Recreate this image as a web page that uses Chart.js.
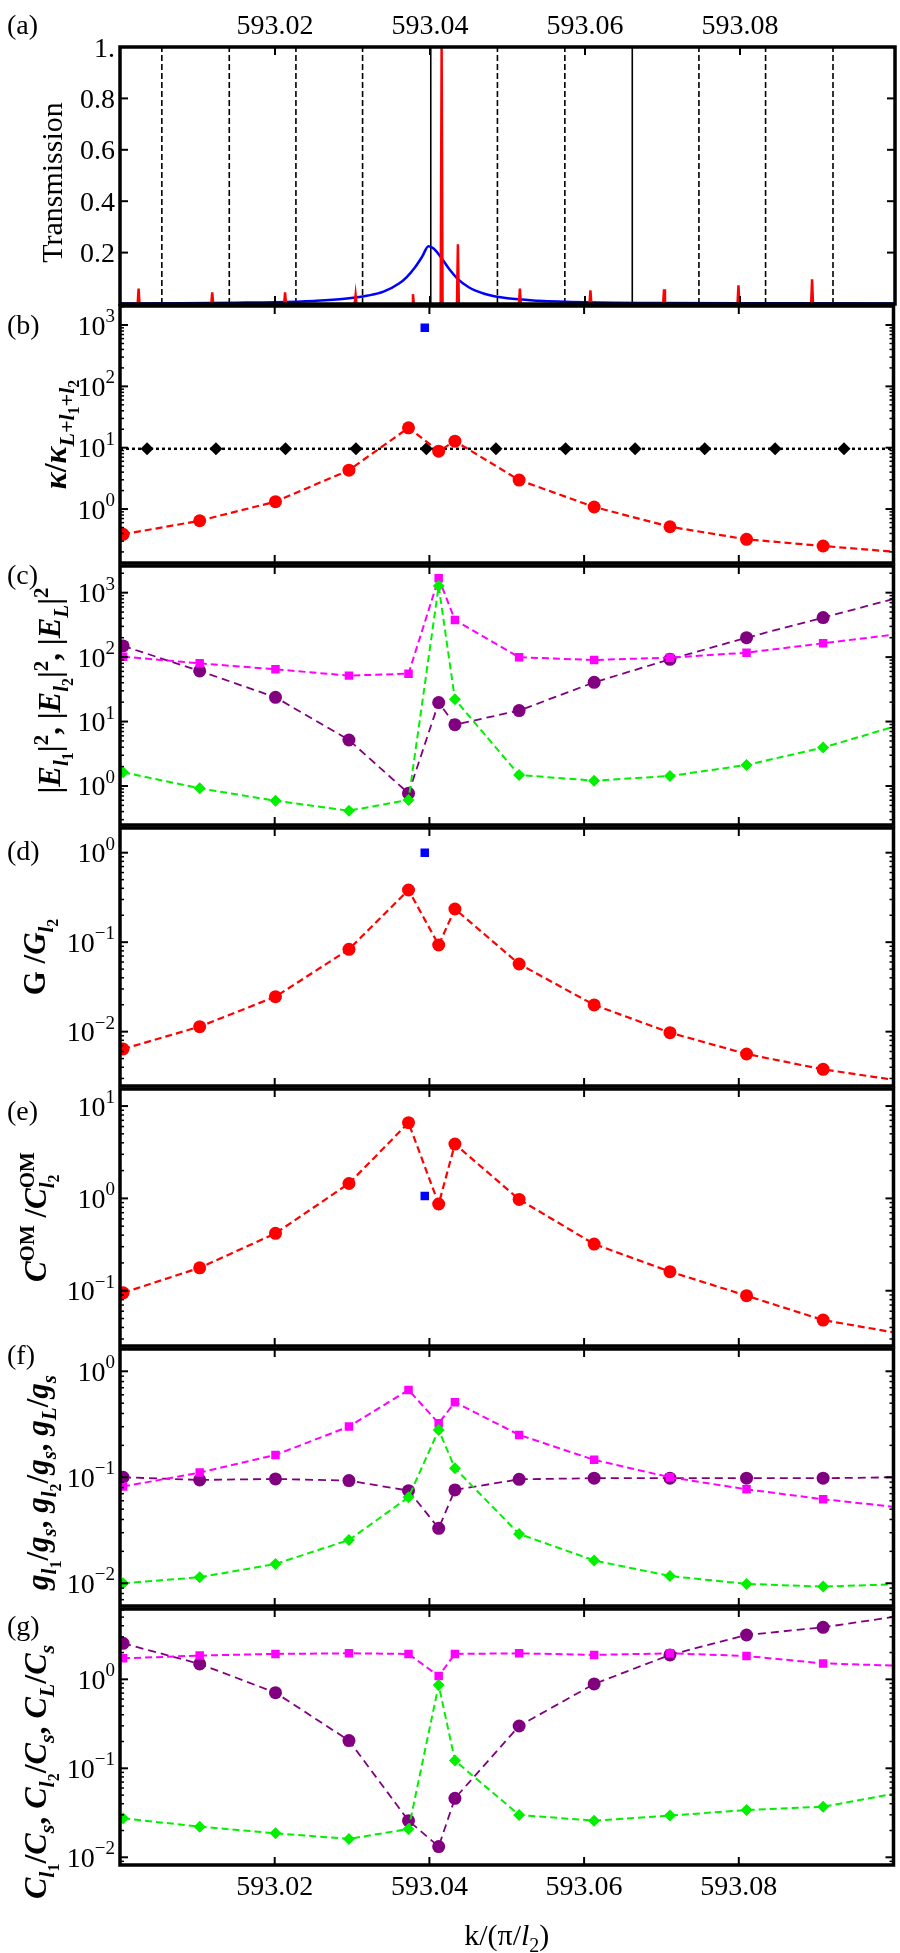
<!DOCTYPE html>
<html>
<head>
<meta charset="utf-8">
<script src="https://cdn.jsdelivr.net/npm/chart.js@4.4.1/dist/chart.umd.min.js"></script>
<style>
  body { margin: 0; background: #fff; }
  #wrap { position: relative; width: 900px; height: 1953px; background: #fff; }
  canvas { position: absolute; left: 0; }
</style>
</head>
<body>
<div id="wrap"></div>
<script>
// ---- shared x axis ----
const X_MIN = 593.0, X_MAX = 593.1;
const xTicks = [593.02, 593.04, 593.06, 593.08];
const xTickLabels = ["593.02", "593.04", "593.06", "593.08"];
const kGrid = [593.0004, 593.0103, 593.0201, 593.0296, 593.0373, 593.0412, 593.0433,
               593.0516, 593.0613, 593.0711, 593.0810, 593.0909, 593.1008];

// ---- (a) transmission ----
const modeLines = [593.0054, 593.0141, 593.0227, 593.0313, 593.0401, 593.0487,
                   593.0574, 593.0661, 593.0747, 593.0833, 593.0920];
const solidModeIdx = [4, 7];
const blueK = [593.000, 593.008, 593.015, 593.020, 593.025, 593.029, 593.032, 593.034,
               593.036, 593.037, 593.038, 593.039, 593.0398, 593.0405, 593.0415, 593.0425,
               593.0435, 593.045, 593.047, 593.050, 593.054, 593.060, 593.070, 593.085, 593.100];
const blueT = [0.002, 0.003, 0.005, 0.007, 0.012, 0.020, 0.033, 0.048,
               0.080, 0.105, 0.140, 0.185, 0.225, 0.215, 0.178, 0.135,
               0.100, 0.065, 0.040, 0.022, 0.013, 0.007, 0.004, 0.003, 0.002];
const spikeK = [593.0024, 593.0119, 593.0213, 593.0304, 593.0378, 593.0415,
                593.0436, 593.0516, 593.0607, 593.0702, 593.0798, 593.0893];
const spikeT = [0.060, 0.045, 0.045, 0.035, 0.038, 1.0, 0.232, 0.060, 0.053, 0.057, 0.073, 0.096];
const transTicks = [0.2, 0.4, 0.6, 0.8, 1.0];
const transTickLabels = ["0.2", "0.4", "0.6", "0.8", "1."];

// ---- (b) kappa ----
const kappaRed = [0.387, 0.645, 1.32, 4.31, 21.1, 8.79, 12.8, 2.97, 1.08, 0.515, 0.321, 0.25, 0.198];
const kappaRefK = [593.0035, 593.0124, 593.0214, 593.0305, 593.0396, 593.0486,
                   593.0576, 593.0666, 593.0756, 593.0847, 593.0936];
const kappaRefLevel = 9.6;
const blueSquareK = 593.0394;
const kappaBlue = 906;

// ---- (c) field intensities ----
const fieldL1 = [149, 61, 23.8, 5.17, 0.77, 19.7, 8.95, 14.8, 40.6, 92.4, 200, 410, 848];
const fieldL2 = [101.7, 80, 64.7, 51.6, 55.4, 1671, 377, 99.3, 90.3, 98.1, 117, 164, 229];
const fieldL  = [1.63, 0.92, 0.59, 0.414, 0.607, 1271, 22.1, 1.48, 1.21, 1.43, 2.12, 3.94, 8.85];

// ---- (d) G ----
const gainRed = [0.0064, 0.01138, 0.0246, 0.0832, 0.383, 0.093, 0.235, 0.057, 0.0199, 0.00975, 0.00563, 0.00379, 0.00283];
const gainBlue = 1.0;

// ---- (e) C^OM ----
const comRed = [0.095, 0.177, 0.418, 1.45, 6.6, 0.869, 3.87, 0.975, 0.32, 0.161, 0.0883, 0.0481, 0.0345];
const comBlue = 1.06;

// ---- (f) g / g_s ----
const gL1 = [0.1, 0.0944, 0.0964, 0.093, 0.0748, 0.033, 0.076, 0.0957, 0.098, 0.098, 0.098, 0.098, 0.1];
const gL2 = [0.0817, 0.1107, 0.1625, 0.301, 0.667, 0.323, 0.511, 0.251, 0.146, 0.1, 0.077, 0.062, 0.052];
const gL  = [0.01, 0.0114, 0.0152, 0.0256, 0.0647, 0.28, 0.1216, 0.0292, 0.0164, 0.0117, 0.00986, 0.0093, 0.0098];

// ---- (g) C / C_s ----
const cL1 = [2.54, 1.49, 0.708, 0.205, 0.0258, 0.0132, 0.046, 0.299, 0.887, 1.88, 3.15, 3.84, 5.15];
const cL2 = [1.72, 1.85, 1.93, 1.96, 1.93, 1.09, 1.93, 1.96, 1.88, 1.96, 1.83, 1.51, 1.42];
const cL  = [0.0274, 0.0221, 0.0186, 0.0161, 0.0208, 0.864, 0.122, 0.0299, 0.0258, 0.0294, 0.034, 0.037, 0.0533];

// log tick labels
const logTicks = [0.01, 0.1, 1, 10, 100, 1000];
const logTickLabels = ["10^\u22122", "10^\u22121", "10^0", "10^1", "10^2", "10^3"];

const RED = "#ff0000", MAGENTA = "#ff00ff", PURPLE = "#800080", GREEN = "#00f000", BLUE = "#0000ff";
const FONT = '"Liberation Serif", "Times New Roman", serif';

const pts = (xs, ys) => xs.map((x, i) => ({ x: x, y: ys[i] }));

const series = (xs, ys, color, style, r, dash, width, order) => ({
  data: pts(xs, ys),
  borderColor: color,
  backgroundColor: color,
  pointStyle: style,
  pointRadius: (c) => (c.raw && c.raw.x > X_MAX ? 0 : r),
  pointBorderWidth: 0,
  borderWidth: width,
  borderDash: dash,
  tension: 0,
  order: order
});

const blueSquare = (v) => ({
  data: [{ x: blueSquareK, y: v }],
  showLine: false,
  pointStyle: "rect",
  pointRadius: 6,
  pointBorderWidth: 0,
  backgroundColor: BLUE,
  order: 0
});

// ---- rich text (sub/superscripts) ----
function richDraw(ctx, segs, size, cx, cy, rot) {
  const parsed = segs.map(([t, st]) => {
    const lvl = st.includes("^") ? -1 : (st.match(/_/g) || []).length;
    const sc = lvl === 0 ? 1 : lvl === 2 ? 0.5 : 0.68;
    const dy = lvl === 0 ? 0 : lvl === -1 ? -0.38 : lvl === 1 ? 0.25 : 0.42;
    const font = (st.includes("i") ? "italic " : "") + (st.includes("b") ? "bold " : "") +
                 Math.round(size * sc) + "px " + FONT;
    ctx.font = font;
    const w = st.includes("0") ? 0 : ctx.measureText(t).width;
    return { t, font, w, dy: dy * size };
  });
  const total = parsed.reduce((s, p) => s + p.w, 0);
  ctx.save();
  ctx.translate(cx, cy);
  if (rot) ctx.rotate(-Math.PI / 2);
  ctx.textAlign = "left";
  ctx.textBaseline = "alphabetic";
  let xx = -total / 2;
  parsed.forEach(p => { ctx.font = p.font; ctx.fillText(p.t, xx, size * 0.33 + p.dy); xx += p.w; });
  ctx.restore();
}

function tickLabel(ctx, label, right, y) {
  const parts = label.split("^");
  ctx.textBaseline = "alphabetic";
  ctx.textAlign = "left";
  ctx.font = "28px " + FONT;
  const w0 = ctx.measureText(parts[0]).width;
  let w1 = 0;
  if (parts[1]) { ctx.font = "19px " + FONT; w1 = ctx.measureText(parts[1]).width; }
  const x0 = right - w0 - w1;
  ctx.font = "28px " + FONT;
  ctx.fillText(parts[0], x0, y + 9.5);
  if (parts[1]) { ctx.font = "19px " + FONT; ctx.fillText(parts[1], x0 + w0, y - 3); }
}

const panels = {};

const axesPlugin = {
  id: "axesPlugin",
  afterDraw(chart) {
    const p = panels[chart.canvas.id];
    if (!p) return;
    const { ctx, chartArea: a } = chart;
    const x = chart.scales.x, y = chart.scales.y;
    ctx.save();
    ctx.strokeStyle = "#000";
    ctx.fillStyle = "#000";
    const seg = (x1, y1, x2, y2) => { ctx.beginPath(); ctx.moveTo(x1, y1); ctx.lineTo(x2, y2); ctx.stroke(); };
    ctx.lineWidth = 2;
    xTicks.forEach(v => {
      const px = x.getPixelForValue(v);
      seg(px, a.top, px, a.top + 8);
      seg(px, a.bottom, px, a.bottom - 8);
    });
    const yt = p.ticks.filter(v => v >= y.min && v <= y.max);
    yt.forEach(v => {
      const py = y.getPixelForValue(v);
      seg(a.left, py, a.left + 8, py);
      seg(a.right, py, a.right - 8, py);
    });
    if (p.log) {
      ctx.lineWidth = 1.5;
      for (let k = Math.floor(Math.log10(y.min)); k <= Math.ceil(Math.log10(y.max)); k++) {
        for (let m = 2; m <= 9; m++) {
          const v = m * Math.pow(10, k);
          if (v <= y.min || v >= y.max) continue;
          const py = y.getPixelForValue(v);
          seg(a.left, py, a.left + 4, py);
          seg(a.right, py, a.right - 4, py);
        }
      }
    }
    ctx.lineWidth = 3.5;
    ctx.strokeRect(a.left, a.top, a.right - a.left, a.bottom - a.top);

    // y tick labels
    p.ticks.forEach((v, i) => {
      if (v < y.min || v > y.max) return;
      tickLabel(ctx, p.labels[i], a.left - 5, y.getPixelForValue(v));
    });
    // x tick labels
    if (p.xLabels) {
      ctx.font = "28px " + FONT;
      ctx.textAlign = "center";
      ctx.textBaseline = "middle";
      const ly = p.xLabels === "top" ? a.top - 20 : a.bottom + 23;
      xTicks.forEach((v, i) => ctx.fillText(xTickLabels[i], x.getPixelForValue(v), ly));
    }
    // panel letter
    ctx.font = "28px " + FONT;
    ctx.textAlign = "left";
    ctx.textBaseline = "middle";
    ctx.fillText(p.letter, 7, a.top + p.letterDy);
    // axis title
    richDraw(ctx, p.title, p.titleSize, p.titleX, (a.top + a.bottom) / 2 + p.titleDy, true);
    if (p.xTitle) richDraw(ctx, p.xTitle, 30, (a.left + a.right) / 2, a.bottom + 70, false);
    ctx.restore();
  }
};

function addPanel(id, top, bottom, yType, yMin, yMax, datasets, conf) {
  const padTop = Math.min(60, top);
  const padBottom = conf.padBottom || 60;
  const c = document.createElement("canvas");
  c.id = id;
  c.width = 900;
  c.height = bottom - top + padTop + padBottom;
  c.style.top = (top - padTop) + "px";
  document.getElementById("wrap").appendChild(c);
  panels[id] = conf;
  new Chart(c, {
    type: "line",
    data: { datasets: datasets },
    options: {
      responsive: false,
      animation: false,
      devicePixelRatio: 1,
      events: [],
      layout: { padding: { left: 120, right: 5, top: padTop, bottom: padBottom } },
      plugins: { legend: { display: false }, tooltip: { enabled: false } },
      scales: {
        x: { type: "linear", min: X_MIN, max: X_MAX, display: false },
        y: { type: yType, min: yMin, max: yMax, display: false }
      }
    },
    plugins: [axesPlugin]
  });
}

// ---- (a) ----
const spikeData = [];
spikeK.forEach((k, i) => {
  spikeData.push({ x: k - 0.00012, y: 0 }, { x: k, y: spikeT[i] }, { x: k + 0.00012, y: 0 }, { x: k + 0.00013, y: null });
});
const aSets = [
  { data: spikeData, borderColor: RED, borderWidth: 2.5, pointRadius: 0, spanGaps: false, tension: 0, order: 0 },
  { data: pts(blueK, blueT), borderColor: BLUE, borderWidth: 2.5, pointRadius: 0, cubicInterpolationMode: "monotone", order: 1 }
];
modeLines.forEach((k, i) => {
  aSets.push({
    data: [{ x: k, y: 0 }, { x: k, y: 1 }],
    borderColor: "#000",
    borderWidth: 1.6,
    borderDash: solidModeIdx.includes(i) ? [] : [6, 3],
    pointRadius: 0,
    order: 2
  });
});
addPanel("pa", 47, 304, "linear", 0, 1, aSets, {
  ticks: transTicks, labels: transTickLabels, log: false, xLabels: "top",
  letter: "(a)", letterDy: -20,
  title: [["Transmission", ""]], titleSize: 30, titleX: 52, titleDy: 7
});

// ---- (b) ----
addPanel("pb", 306, 563, "logarithmic", 0.132, 2042, [
  blueSquare(kappaBlue),
  series(kGrid, kappaRed, RED, "circle", 6.5, [7, 4], 2.2, 1),
  { data: kappaRefK.map(k => ({ x: k, y: kappaRefLevel })), showLine: false, pointStyle: "rectRot",
    pointRadius: 6.5, pointBorderWidth: 0, backgroundColor: "#000", order: 2 },
  { data: [{ x: X_MIN, y: kappaRefLevel }, { x: X_MAX, y: kappaRefLevel }], borderColor: "#000",
    borderWidth: 2.5, borderDash: [3, 3], pointRadius: 0, order: 3 }
], {
  ticks: logTicks, labels: logTickLabels, log: true, letter: "(b)", letterDy: 21,
  title: [["\u03ba", "bi"], ["/", "b"], ["\u03ba", "bi"], ["L", "bi_"], ["+", "b_"], ["l", "bi_"], ["1", "b__"],
          ["+", "b_"], ["l", "bi_"], ["2", "b__"]],
  titleSize: 32, titleX: 55, titleDy: 0
});

// ---- (c) ----
addPanel("pc", 566, 825, "logarithmic", 0.248, 2594, [
  series(kGrid, fieldL2, MAGENTA, "rect", 6, [7, 4], 2, 1),
  series(kGrid, fieldL, GREEN, "rectRot", 6, [7, 4], 2, 0),
  series(kGrid, fieldL1, PURPLE, "circle", 6.5, [8, 5], 1.8, 2)
], {
  ticks: logTicks, labels: logTickLabels, log: true, letter: "(c)", letterDy: 11,
  title: [["|", "b"], ["E", "bi"], ["l", "bi_"], ["1", "b__"], ["|", "b"], ["2", "b^"], [", ", "b"],
          ["|", "b"], ["E", "bi"], ["l", "bi_"], ["2", "b__"], ["|", "b"], ["2", "b^"], [", ", "b"],
          ["|", "b"], ["E", "bi"], ["L", "bi_"], ["|", "b"], ["2", "b^"]],
  titleSize: 31, titleX: 50, titleDy: -5
});

// ---- (d) ----
addPanel("pd", 828, 1086, "logarithmic", 0.00247, 1.888, [
  blueSquare(gainBlue),
  series(kGrid, gainRed, RED, "circle", 6.5, [7, 4], 2.2, 1)
], {
  ticks: logTicks, labels: logTickLabels, log: true, letter: "(d)", letterDy: 25,
  title: [["G", "b"], [" /", "b"], ["G", "bi"], ["l", "bi_"], ["2", "b__"]],
  titleSize: 31, titleX: 35, titleDy: 0
});

// ---- (e) ----
addPanel("pe", 1089, 1346, "logarithmic", 0.0252, 15.3, [
  blueSquare(comBlue),
  series(kGrid, comRed, RED, "circle", 6.5, [7, 4], 2.2, 1)
], {
  ticks: logTicks, labels: logTickLabels, log: true, letter: "(e)", letterDy: 24,
  title: [["C", "bi"], ["OM", "b^"], [" /", "b"], ["C", "bi"], ["OM", "b^0"], ["l", "bi_"], ["2", "b__"], ["  ", "b"]],
  titleSize: 31, titleX: 36, titleDy: 3
});

// ---- (f) ----
addPanel("pf", 1349, 1606, "logarithmic", 0.0061, 1.623, [
  series(kGrid, gL2, MAGENTA, "rect", 6, [7, 4], 2, 1),
  series(kGrid, gL, GREEN, "rectRot", 6, [7, 4], 2, 0),
  series(kGrid, gL1, PURPLE, "circle", 6.5, [8, 5], 1.8, 2)
], {
  ticks: logTicks, labels: logTickLabels, log: true, letter: "(f)", letterDy: 8,
  title: [["g", "bi"], ["l", "bi_"], ["1", "b__"], ["/", "b"], ["g", "bi"], ["s", "bi_"], [", ", "b"],
          ["g", "bi"], ["l", "bi_"], ["2", "b__"], ["/", "b"], ["g", "bi"], ["s", "bi_"], [", ", "b"],
          ["g", "bi"], ["L", "bi_"], ["/", "b"], ["g", "bi"], ["s", "bi_"]],
  titleSize: 31, titleX: 38, titleDy: 5
});

// ---- (g) ----
addPanel("pg", 1609, 1865, "logarithmic", 0.00819, 6.17, [
  series(kGrid, cL2, MAGENTA, "rect", 6, [7, 4], 2, 1),
  series(kGrid, cL, GREEN, "rectRot", 6, [7, 4], 2, 0),
  series(kGrid, cL1, PURPLE, "circle", 6.5, [8, 5], 1.8, 2)
], {
  ticks: logTicks, labels: logTickLabels, log: true, letter: "(g)", letterDy: 19,
  xLabels: "bottom", padBottom: 88,
  title: [["C", "bi"], ["l", "bi_"], ["1", "b__"], ["/", "b"], ["C", "bi"], ["s", "bi_"], [", ", "b"],
          ["C", "bi"], ["l", "bi_"], ["2", "b__"], ["/", "b"], ["C", "bi"], ["s", "bi_"], [", ", "b"],
          ["C", "bi"], ["L", "bi_"], ["/", "b"], ["C", "bi"], ["s", "bi_"]],
  titleSize: 32, titleX: 35, titleDy: 35,
  xTitle: [["k/(\u03c0/", ""], ["l", "i"], ["2", "_"], [")", ""]]
});
</script>
</body>
</html>
